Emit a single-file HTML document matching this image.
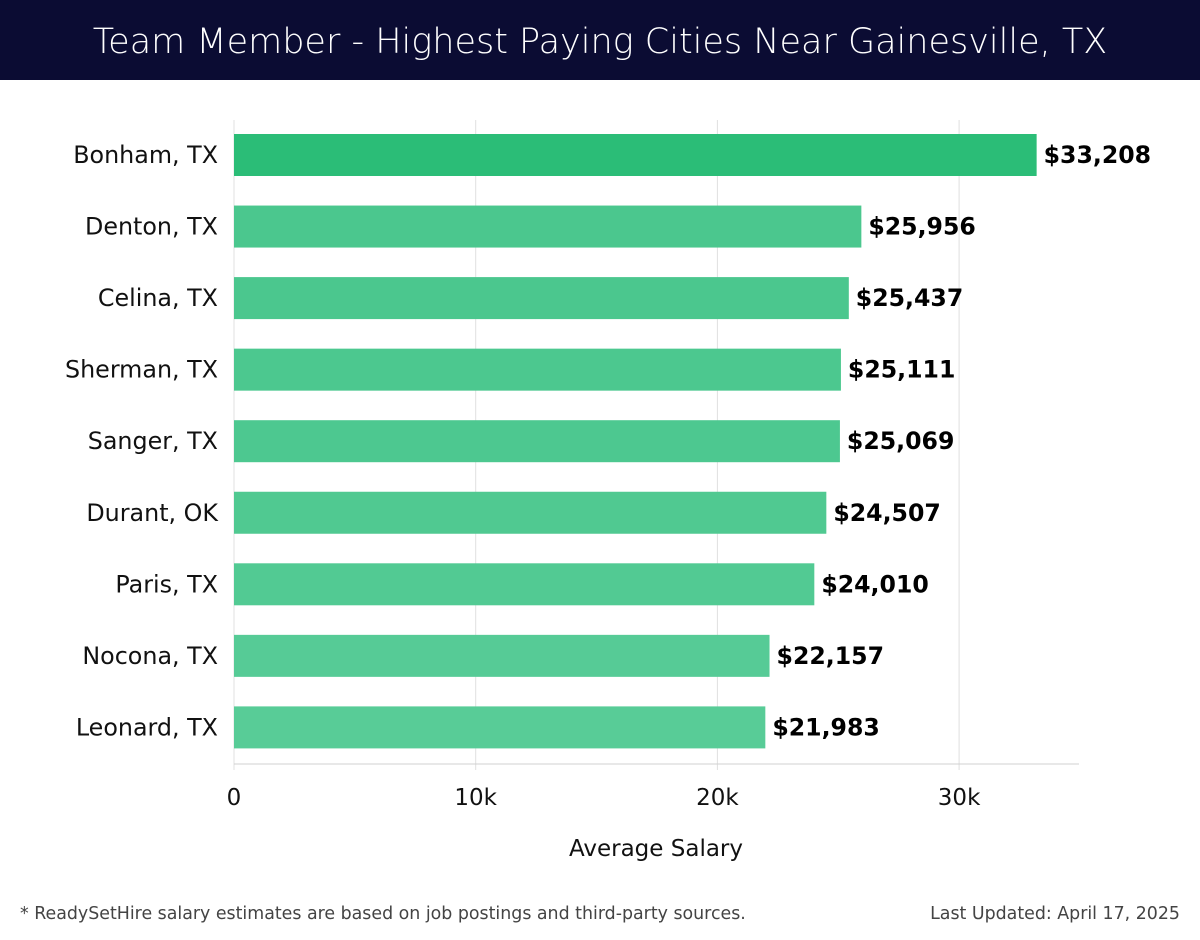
<!DOCTYPE html>
<html><head><meta charset="utf-8"><style>
body{margin:0;width:1200px;height:940px;background:#fff;font-family:"Liberation Sans","DejaVu Sans",sans-serif;overflow:hidden}
#title{position:absolute;left:0;top:0;width:1200px;height:80px;background:#0b0c33;color:#fff;font-size:35px;line-height:84px;text-align:center;font-family:"DejaVu Sans","Liberation Sans",sans-serif;font-weight:300}
svg{position:absolute;left:0;top:0}
</style></head><body>
<div id="title">Team Member - Highest Paying Cities Near Gainesville, TX</div>
<svg id="chart" width="1200" height="940"></svg>
<script>
const cities=["Bonham, TX","Denton, TX","Celina, TX","Sherman, TX","Sanger, TX","Durant, OK","Paris, TX","Nocona, TX","Leonard, TX"];
const salaries=[33208,25956,25437,25111,25069,24507,24010,22157,21983];
const ticks=[0,10000,20000,30000];
const tickLabels=["0","10k","20k","30k"];
const colors=["#2bbd77","#4bc78e","#4bc78e","#4cc88f","#4dc890","#50c991","#52ca93","#56cb96","#58cc97"];
const NS="http://www.w3.org/2000/svg";
const svgEl=document.getElementById('chart');
const x0=234,pxPerK=24.17,plotTop=120,step=71.55,barH=42;
const xs=v=>x0+v/1000*pxPerK;
const yc=i=>plotTop+35+i*step;
function mk(t,a,txt){const e=document.createElementNS(NS,t);for(const k in a)e.setAttribute(k,a[k]);if(txt!=null)e.textContent=txt;svgEl.appendChild(e);return e;}
ticks.forEach((t,i)=>{
 const g=mk('line',{x1:xs(t),x2:xs(t),y1:plotTop,y2:770,stroke:'#e0e0e0','stroke-width':1});
 
 
 const l=mk('text',{x:xs(t),y:805,'text-anchor':'middle','font-size':23,fill:'#111','font-family':'DejaVu Sans, sans-serif'},tickLabels[i]);
 
 
});
const ax=mk('line',{x1:x0,x2:1079,y1:764,y2:764,stroke:'#d0d0d0','stroke-width':1});


cities.forEach((c,i)=>{
 const y=yc(i);
 const r=mk('rect',{x:x0,y:y-barH/2,width:xs(salaries[i])-x0,height:barH,fill:colors[i]});
 
 
 const lab=mk('text',{x:218,y:y+8,'text-anchor':'end','font-size':23.8,fill:'#111','font-family':'DejaVu Sans, sans-serif'},c);
 
 
 const v=mk('text',{x:xs(salaries[i])+7,y:y+8,'font-size':23.6,'font-weight':'bold',fill:'#000','font-family':'DejaVu Sans, sans-serif'},'$'+salaries[i].toLocaleString('en-US'));
 
 
});
const at=mk('text',{x:656,y:856,'text-anchor':'middle','font-size':23,fill:'#111','font-family':'DejaVu Sans, sans-serif'},'Average Salary');


const f1=mk('text',{x:20,y:919,'font-size':17.4,fill:'#444','font-family':'DejaVu Sans, sans-serif'},'* ReadySetHire salary estimates are based on job postings and third-party sources.');


const f2=mk('text',{x:1180,y:919,'text-anchor':'end','font-size':17.4,fill:'#444','font-family':'DejaVu Sans, sans-serif'},'Last Updated: April 17, 2025');


</script>
</body></html>
